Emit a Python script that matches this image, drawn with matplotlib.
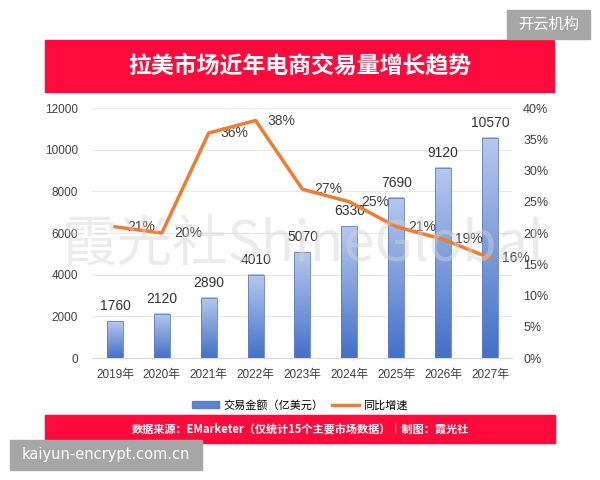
import numpy as np
import matplotlib
matplotlib.use("Agg")
import matplotlib.pyplot as plt
from matplotlib.patches import Rectangle, Patch
from matplotlib.lines import Line2D
from matplotlib.colors import LinearSegmentedColormap

plt.rcParams["font.family"] = ["Liberation Sans", "Noto Sans CJK SC", "DejaVu Sans"]

# datos
years = ["2019年", "2020年", "2021年", "2022年", "2023年", "2024年", "2025年", "2026年", "2027年"]
volumen = [1760, 2120, 2890, 4010, 5070, 6330, 7690, 9120, 10570]
crecimiento = [21, 20, 36, 38, 27, 25, 21, 19, 16]

titulo = "拉美市场近年电商交易量增长趋势"
fuente = "数据来源：EMarketer（仅统计15个主要市场数据）｜制图：霞光社"
legend_labels = ["交易金额（亿美元）", "同比增速"]

red = "#fe0a3c"
orange = "#ed7d31"
text_c = "#404040"

fig = plt.figure(figsize=(6, 4.8), dpi=100)
ax = fig.add_axes([0.1533, 0.254, 0.70, 0.521])

x = np.arange(len(years))
w = 0.34
bars = ax.bar(x, volumen, width=w, color="none", edgecolor="#5a7fc8", linewidth=0.6, zorder=3)

# degradado de las barras
cmap = LinearSegmentedColormap.from_list("azul", ["#4470c8", "#b6c8ee"])
grad = np.linspace(0, 1, 256).reshape(-1, 1)
for xi, v in zip(x, volumen):
    ax.imshow(grad, extent=[xi - w / 2, xi + w / 2, 0, v], origin="lower",
              aspect="auto", cmap=cmap, zorder=2)

for xi, v in zip(x, volumen):
    ax.annotate(str(v), (xi, v), xytext=(0, 8), textcoords="offset pixels",
                ha="center", va="bottom", fontsize=10, color="#333333")

ax.set_xlim(-0.49, 8.47)
ax.set_ylim(0, 12000)
ax.set_yticks(range(0, 12001, 2000))
ax.set_xticks(x)
ax.set_xticklabels(years)
ax.tick_params(length=0, labelsize=8.5, colors=text_c)
ax.tick_params(axis="x", pad=8)
ax.tick_params(axis="y", pad=10)
ax.grid(axis="y", color="#e8e8e8", linewidth=0.8)
ax.set_axisbelow(True)
for s in ["top", "right", "left"]:
    ax.spines[s].set_visible(False)
ax.spines["bottom"].set_color("#d9d9d9")

ax2 = ax.twinx()
ax2.plot(x, [c / 100 for c in crecimiento], color=orange, linewidth=2.5, zorder=4)
for xi, c in zip(x, crecimiento):
    ax2.annotate(f"{c}%", (xi, c / 100), xytext=(12, 0), textcoords="offset pixels",
                 ha="left", va="center", fontsize=10, color=text_c)
ax2.set_ylim(0, 0.40)
ax2.set_yticks(np.arange(0, 0.401, 0.05))
ax2.set_yticklabels([f"{int(round(t * 100))}%" for t in np.arange(0, 0.401, 0.05)])
ax2.tick_params(length=0, labelsize=9, colors=text_c, pad=8)
for s in ax2.spines.values():
    s.set_visible(False)

# banda del título
fig.patches.append(Rectangle((45 / 600, 1 - 92 / 480), 509 / 600, 52 / 480,
                             transform=fig.transFigure, color=red, zorder=0))
fig.text(0.5, 1 - 66 / 480, titulo, ha="center", va="center", color="white",
         fontsize=16.5, fontweight="bold", family=["Noto Sans CJK SC"])

# leyenda
handles = [Patch(facecolor="#5b82d0", edgecolor="#5a7fc8"),
           Line2D([0], [0], color=orange, linewidth=2.5)]
fig.legend(handles, legend_labels, loc="center", bbox_to_anchor=(0.5, 1 - 405 / 480),
           ncol=2, frameon=False, handlelength=2.4, columnspacing=0.8,
           handletextpad=0.4, prop={"family": ["Noto Sans CJK SC"], "size": 8})

# banda de la fuente
fig.patches.append(Rectangle((45 / 600, 1 - 443 / 480), 510 / 600, 28 / 480,
                             transform=fig.transFigure, color=red, zorder=0))
fig.text(0.5, 1 - 429 / 480, fuente, ha="center", va="center", color="white",
         fontsize=8, fontweight="bold", family=["Noto Sans CJK SC"])

# marca de agua
fig.text(0.505, 1 - 245 / 480, "霞光社ShineGlobal", ha="center", va="center",
         fontsize=40, color="#d4d4d4", alpha=0.45, zorder=10,
         family=["Noto Sans CJK SC"], fontweight="light")

# recuadros grises
fig.patches.append(Rectangle((507 / 600, 1 - 39 / 480), 83 / 600, 29 / 480,
                             transform=fig.transFigure, color="#a6a6a6", zorder=5))
fig.text(548.5 / 600, 1 - 24.5 / 480, "开云机构", ha="center", va="center",
         color="white", fontsize=11, family=["Noto Sans CJK SC"], zorder=6)
fig.patches.append(Rectangle((10 / 600, 1 - 470 / 480), 192 / 600, 30 / 480,
                             transform=fig.transFigure, color="#a6a6a6", zorder=5))
fig.text(106 / 600, 1 - 455 / 480, "kaiyun-encrypt.com.cn", ha="center", va="center",
         color="white", fontsize=10.5, family=["DejaVu Sans"], zorder=6)

fig.savefig("out.png", dpi=100)
